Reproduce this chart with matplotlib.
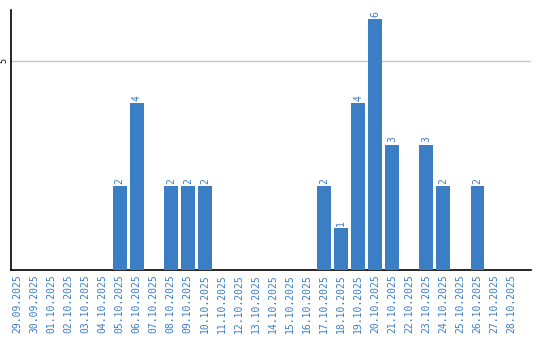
import matplotlib
matplotlib.use("Agg")
import matplotlib.pyplot as plt
import pandas as pd

# daily counts
dates = pd.date_range("2025-09-29", "2025-10-28", freq="D")
labels = [d.strftime("%d.%m.%Y") for d in dates]
counts = [0, 0, 0, 0, 0, 0, 2, 4, 0, 2, 2, 2, 0, 0, 0, 0, 0, 0, 2, 1,
          4, 6, 3, 0, 3, 2, 0, 2, 0, 0]

bar_color = "#3b7ec4"
text_color = "#3a7dc4"

fig = plt.figure(figsize=(5.4, 3.4), dpi=100)
ax = fig.add_axes([0.0204, 0.206, 0.9626, 0.7646])

x = list(range(len(labels)))
ax.bar(x, counts, width=0.82, color=bar_color, zorder=3)

for xi, v in zip(x, counts):
    if v > 0:
        ax.text(xi, v + 0.05, str(v), rotation=90, ha="center", va="bottom",
                fontsize=7, color=text_color, family="DejaVu Sans Mono", zorder=4)

ax.set_xlim(-0.38, 30.13)
ax.set_ylim(0, 6.22)
ax.set_yticks([5])
ax.set_yticklabels(["5"], rotation=90, va="center", fontsize=6,
                   family="DejaVu Sans Mono")
ax.yaxis.grid(True, color="#c8c8c8", linewidth=1, zorder=0)

ax.set_xticks(x)
ax.set_xticklabels(labels, rotation=90, fontsize=7, color=text_color,
                   family="DejaVu Sans Mono")
ax.tick_params(axis="both", length=0, pad=3)
ax.tick_params(axis="y", pad=2)

ax.spines["top"].set_visible(False)
ax.spines["right"].set_visible(False)
ax.spines["left"].set_color("black")
ax.spines["bottom"].set_color("black")
ax.spines["left"].set_linewidth(1.2)
ax.spines["bottom"].set_linewidth(1.2)

fig.savefig("out.png", dpi=100)
